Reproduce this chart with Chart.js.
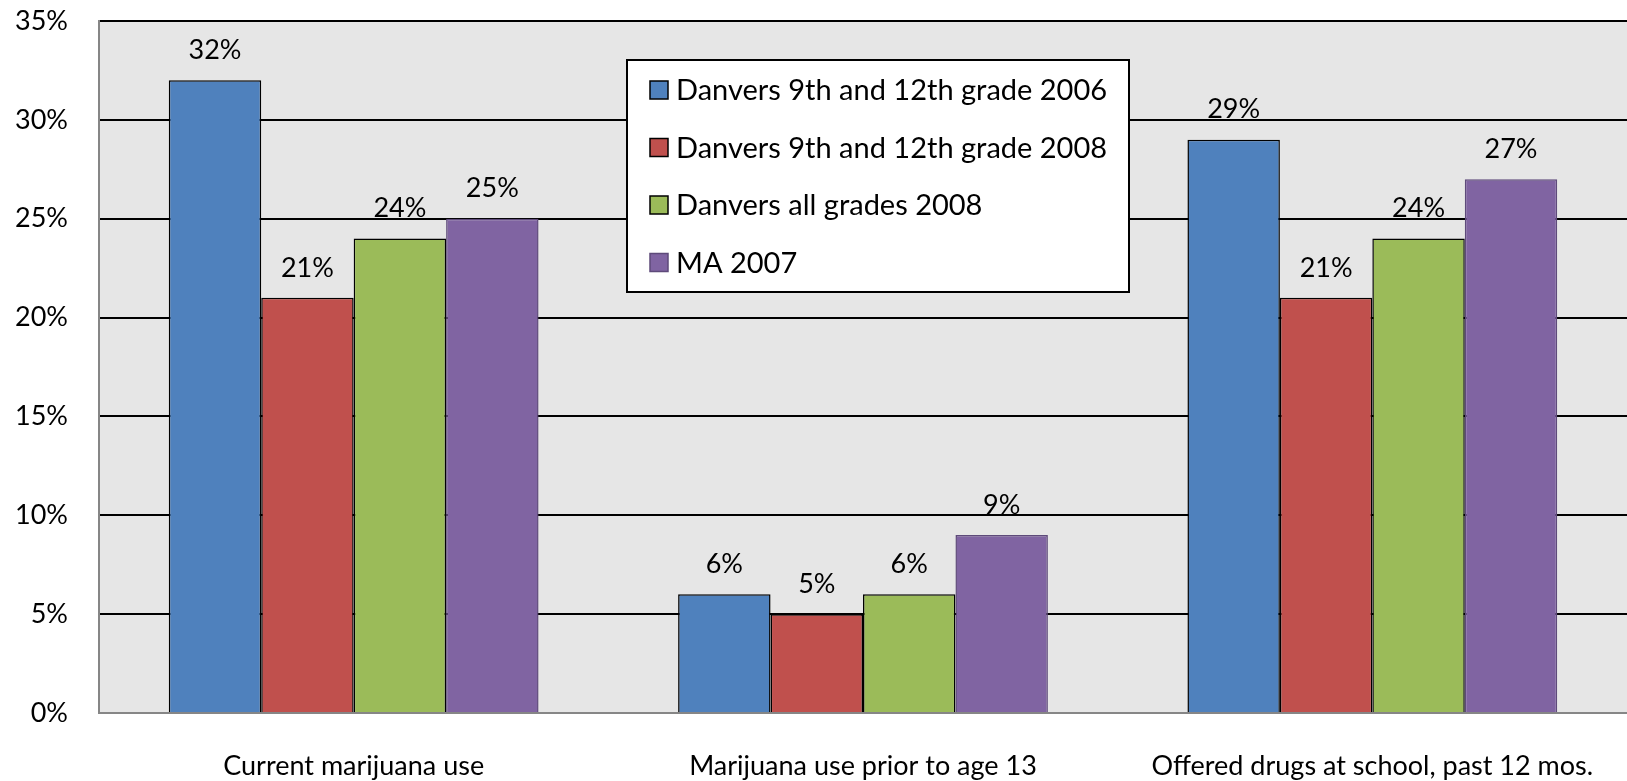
<!DOCTYPE html>
<html>
<head>
<meta charset="utf-8">
<script src="https://cdn.jsdelivr.net/npm/chart.js@4"></script>
<style>
  html, body { margin: 0; padding: 0; background: #ffffff; overflow: hidden; }
  #wrap { width: 1627px; height: 781px; position: relative; }
  canvas { display: block; }
</style>
</head>
<body>
<div id="wrap"><canvas id="c" width="1627" height="781"></canvas></div>
<script>
const categories = ["Current marijuana use", "Marijuana use prior to age 13", "Offered drugs at school, past 12 mos."];
const seriesNames = ["Danvers 9th and 12th grade 2006", "Danvers 9th and 12th grade 2008", "Danvers all grades 2008", "MA 2007"];
const danvers912_2006 = [32, 6, 29];
const danvers912_2008 = [21, 5, 21];
const danversAll_2008 = [24, 6, 24];
const ma_2007 = [25, 9, 27];
const yTicks = [0, 5, 10, 15, 20, 25, 30, 35];

const FONT = "Lato";
const FS = 27;
const LEGEND_FS = 29;
const fillColors = ["#4F81BD", "#C0504D", "#9BBB59", "#8064A2"];
const borderColors = ["#000000", "#000000", "#000000", "#5E4A7A"];
const seriesValues = [danvers912_2006, danvers912_2008, danversAll_2008, ma_2007];

const datasets = seriesNames.map((name, i) => ({
  label: name,
  data: seriesValues[i],
  backgroundColor: fillColors[i],
  borderColor: borderColors[i],
  borderWidth: 1.5,
  borderSkipped: 'bottom',
  categoryPercentage: 0.726,
  barPercentage: 1.0
}));

const bgPlugin = {
  id: 'bg',
  beforeDraw(chart) {
    const {ctx, chartArea: a} = chart;
    ctx.save();
    ctx.fillStyle = '#E6E6E6';
    ctx.fillRect(a.left, a.top, a.right - a.left, a.bottom - a.top);
    ctx.restore();
  }
};

const labelPlugin = {
  id: 'vals',
  afterDatasetsDraw(chart) {
    const ctx = chart.ctx;
    ctx.save();
    ctx.font = FS + 'px ' + FONT;
    ctx.fillStyle = '#000';
    ctx.textAlign = 'center';
    ctx.textBaseline = 'middle';
    chart.data.datasets.forEach((ds, di) => {
      chart.getDatasetMeta(di).data.forEach((bar, j) => {
        ctx.fillText(ds.data[j] + '%', bar.x, bar.y - 30);
      });
    });
    ctx.restore();
  }
};

const legendPlugin = {
  id: 'boxLegend',
  afterDraw(chart) {
    const ctx = chart.ctx;
    const bx = 627, by = 60, bw = 502, bh = 232;
    ctx.save();
    ctx.fillStyle = '#fff';
    ctx.fillRect(bx, by, bw, bh);
    ctx.strokeStyle = '#000';
    ctx.lineWidth = 2;
    ctx.strokeRect(bx, by, bw, bh);
    ctx.font = LEGEND_FS + 'px ' + FONT;
    ctx.textAlign = 'left';
    ctx.textBaseline = 'middle';
    chart.data.datasets.forEach((ds, i) => {
      const cy = 90 + i * 57.5;
      ctx.fillStyle = ds.backgroundColor;
      ctx.fillRect(650, cy - 9, 18, 18);
      ctx.strokeStyle = ds.borderColor;
      ctx.lineWidth = 1.5;
      ctx.strokeRect(650, cy - 9, 18, 18);
      ctx.fillStyle = '#000';
      ctx.fillText(ds.label, 676, cy + 1);
    });
    ctx.restore();
  }
};

new Chart(document.getElementById('c'), {
  type: 'bar',
  data: { labels: categories, datasets },
  plugins: [bgPlugin, labelPlugin, legendPlugin],
  options: {
    responsive: false,
    animation: false,
    layout: { padding: { top: 21, right: 0, left: 0, bottom: 0 } },
    plugins: { legend: { display: false }, tooltip: { enabled: false } },
    scales: {
      x: {
        type: 'category',
        offset: true,
        grid: { display: false, drawTicks: false },
        border: { display: true, color: '#868686', width: 2 },
        ticks: { color: '#000', font: { family: FONT, size: FS }, padding: 37, maxRotation: 0, autoSkip: false },
        afterFit(s) { s.height = 68; s.paddingLeft = 0; s.paddingRight = 0; }
      },
      y: {
        min: 0, max: 35,
        afterBuildTicks(s) { s.ticks = yTicks.map(v => ({ value: v })); },
        grid: {
          drawTicks: true,
          tickLength: 31,
          tickColor: 'rgba(0,0,0,0)',
          color: (c) => (c.tick && c.tick.value === 0) ? 'rgba(0,0,0,0)' : '#000',
          lineWidth: 2
        },
        border: { display: true, color: '#868686', width: 2 },
        ticks: {
          color: '#000', font: { family: FONT, size: FS }, padding: 0, crossAlign: 'near',
          callback: (v) => v + '%'
        },
        afterFit(s) { s.width = 99; }
      }
    }
  }
});
</script>
</body>
</html>
